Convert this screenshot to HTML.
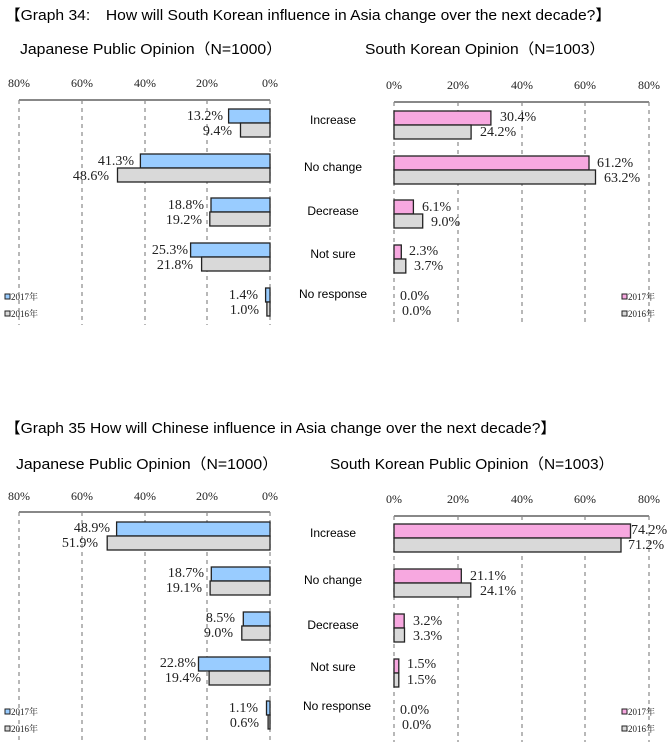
<!DOCTYPE html>
<html><head><meta charset="utf-8"><style>
body{margin:0;background:#fff}
svg{display:block}
.t{font-family:"Liberation Sans","Noto Sans CJK JP",sans-serif;fill:#000}
.s{font-family:"Liberation Serif","Noto Serif CJK SC",serif;fill:#222}
.tick{font-size:12px}
.v{font-size:14px}
.c{font-size:12px;text-anchor:middle}
.g{stroke:#888;stroke-width:1.2;stroke-dasharray:4,4}
.ax{stroke:#888;stroke-width:2}
.b{fill:#99ccff;stroke:#222;stroke-width:1.3}
.p{fill:#f7a8e0;stroke:#222;stroke-width:1.3}
.y{fill:#d9d9d9;stroke:#222;stroke-width:1.3}
.lg{font-size:9px}
</style></head><body>
<svg width="670" height="747" viewBox="0 0 670 747" xmlns="http://www.w3.org/2000/svg">
<text class="t" x="5" y="20" font-size="15" textLength="606" lengthAdjust="spacingAndGlyphs">【Graph 34:　How will South Korean influence in Asia change over the next decade?】</text>
<text class="t" x="20" y="54" font-size="15" textLength="262" lengthAdjust="spacingAndGlyphs">Japanese Public Opinion（N=1000）</text>
<text class="t" x="365" y="54" font-size="15" textLength="240" lengthAdjust="spacingAndGlyphs">South Korean Opinion（N=1003）</text>

<g class="s tick" text-anchor="middle">
<text x="19" y="87">80%</text><text x="82" y="87">60%</text><text x="145" y="87">40%</text><text x="207" y="87">20%</text><text x="270" y="87">0%</text>
<text x="394" y="89">0%</text><text x="458" y="89">20%</text><text x="522" y="89">40%</text><text x="585" y="89">60%</text><text x="649" y="89">80%</text>
</g>
<g>
<line class="g" x1="19" y1="100" x2="19" y2="325"/><line class="g" x1="82" y1="100" x2="82" y2="325"/><line class="g" x1="145" y1="100" x2="145" y2="325"/><line class="g" x1="207" y1="100" x2="207" y2="325"/><line class="g" x1="270" y1="100" x2="270" y2="325"/>
<line class="ax" x1="19" y1="100" x2="270" y2="100"/>
<line class="g" x1="394" y1="102" x2="394" y2="325"/><line class="g" x1="458" y1="102" x2="458" y2="325"/><line class="g" x1="522" y1="102" x2="522" y2="325"/><line class="g" x1="585" y1="102" x2="585" y2="325"/><line class="g" x1="649" y1="102" x2="649" y2="325"/>
<line class="ax" x1="394" y1="102" x2="649" y2="102"/>
</g>
<rect class="b" x="228.6" y="109" width="41.4" height="14"/><rect class="y" x="240.5" y="123" width="29.5" height="14"/>
<rect class="b" x="140.4" y="154" width="129.6" height="14"/><rect class="y" x="117.5" y="168" width="152.5" height="14"/>
<rect class="b" x="211" y="198" width="59" height="14"/><rect class="y" x="209.8" y="212" width="60.2" height="14"/>
<rect class="b" x="190.6" y="243" width="79.4" height="14"/><rect class="y" x="201.6" y="257" width="68.4" height="14"/>
<rect class="b" x="265.6" y="288" width="4.4" height="14"/><rect class="y" x="266.9" y="302" width="3.1" height="14"/>
<g class="s v" text-anchor="end">
<text x="223" y="120">13.2%</text><text x="232" y="135">9.4%</text>
<text x="134" y="165">41.3%</text><text x="109" y="180">48.6%</text>
<text x="204" y="209">18.8%</text><text x="202" y="224">19.2%</text>
<text x="188" y="254">25.3%</text><text x="193" y="269">21.8%</text>
<text x="258" y="299">1.4%</text><text x="259" y="314">1.0%</text>
</g>
<rect class="p" x="394" y="111" width="96.9" height="14"/><rect class="y" x="394" y="125" width="77.1" height="14"/>
<rect class="p" x="394" y="156" width="195" height="14"/><rect class="y" x="394" y="170" width="201.5" height="14"/>
<rect class="p" x="394" y="200" width="19.4" height="14"/><rect class="y" x="394" y="214" width="28.7" height="14"/>
<rect class="p" x="394" y="245" width="7.3" height="14"/><rect class="y" x="394" y="259" width="11.8" height="14"/>
<g class="s v">
<text x="500" y="121">30.4%</text><text x="480" y="136">24.2%</text>
<text x="597" y="167">61.2%</text><text x="604" y="182">63.2%</text>
<text x="422" y="211">6.1%</text><text x="431" y="226">9.0%</text>
<text x="409" y="255">2.3%</text><text x="414" y="270">3.7%</text>
<text x="400" y="300">0.0%</text><text x="402" y="315">0.0%</text>
</g>
<g class="t c">
<text x="333" y="124">Increase</text><text x="333" y="171">No change</text><text x="333" y="215">Decrease</text><text x="333" y="258">Not sure</text><text x="333" y="298">No response</text>
</g>
<g class="s lg">
<rect x="5" y="294" width="5" height="5" fill="#99ccff" stroke="#222" stroke-width="1"/><text x="11" y="300">2017年</text>
<rect x="5" y="311" width="5" height="5" fill="#d9d9d9" stroke="#222" stroke-width="1"/><text x="11" y="317">2016年</text>
<rect x="622" y="294" width="5" height="5" fill="#f7a8e0" stroke="#222" stroke-width="1"/><text x="628" y="300">2017年</text>
<rect x="622" y="311" width="5" height="5" fill="#d9d9d9" stroke="#222" stroke-width="1"/><text x="628" y="317">2016年</text>
</g>

<text class="t" x="5" y="433" font-size="15" textLength="551" lengthAdjust="spacingAndGlyphs">【Graph 35 How will Chinese influence in Asia change over the next decade?】</text>
<text class="t" x="16" y="469" font-size="15" textLength="262" lengthAdjust="spacingAndGlyphs">Japanese Public Opinion（N=1000）</text>
<text class="t" x="330" y="469" font-size="15" textLength="284" lengthAdjust="spacingAndGlyphs">South Korean Public Opinion（N=1003）</text>
<g class="s tick" text-anchor="middle">
<text x="19" y="500">80%</text><text x="82" y="500">60%</text><text x="145" y="500">40%</text><text x="207" y="500">20%</text><text x="270" y="500">0%</text>
<text x="394" y="503">0%</text><text x="458" y="503">20%</text><text x="522" y="503">40%</text><text x="585" y="503">60%</text><text x="649" y="503">80%</text>
</g>
<g>
<line class="g" x1="19" y1="512" x2="19" y2="742"/><line class="g" x1="82" y1="512" x2="82" y2="742"/><line class="g" x1="145" y1="512" x2="145" y2="742"/><line class="g" x1="207" y1="512" x2="207" y2="742"/><line class="g" x1="270" y1="512" x2="270" y2="742"/>
<line class="ax" x1="19" y1="512" x2="270" y2="512"/>
<line class="g" x1="394" y1="516" x2="394" y2="742"/><line class="g" x1="458" y1="516" x2="458" y2="742"/><line class="g" x1="522" y1="516" x2="522" y2="742"/><line class="g" x1="585" y1="516" x2="585" y2="742"/><line class="g" x1="649" y1="516" x2="649" y2="742"/>
<line class="ax" x1="394" y1="516" x2="649" y2="516"/>
</g>
<rect class="b" x="116.6" y="522" width="153.4" height="14"/><rect class="y" x="107.2" y="536" width="162.8" height="14"/>
<rect class="b" x="211.3" y="567" width="58.7" height="14"/><rect class="y" x="210.1" y="581" width="59.9" height="14"/>
<rect class="b" x="243.3" y="612" width="26.7" height="14"/><rect class="y" x="241.8" y="626" width="28.2" height="14"/>
<rect class="b" x="198.5" y="657" width="71.5" height="14"/><rect class="y" x="209.1" y="671" width="60.9" height="14"/>
<rect class="b" x="266.5" y="701" width="3.5" height="14"/><rect class="y" x="268.1" y="715" width="1.9" height="14"/>
<g class="s v" text-anchor="end">
<text x="110" y="532">48.9%</text><text x="98" y="547">51.9%</text>
<text x="204" y="577">18.7%</text><text x="202" y="592">19.1%</text>
<text x="235" y="622">8.5%</text><text x="233" y="637">9.0%</text>
<text x="196" y="667">22.8%</text><text x="201" y="682">19.4%</text>
<text x="258" y="712">1.1%</text><text x="259" y="727">0.6%</text>
</g>
<rect class="p" x="394" y="524" width="236.5" height="14"/><rect class="y" x="394" y="538" width="227" height="14"/>
<rect class="p" x="394" y="569" width="67.3" height="14"/><rect class="y" x="394" y="583" width="76.8" height="14"/>
<rect class="p" x="394" y="614" width="10.2" height="14"/><rect class="y" x="394" y="628" width="10.5" height="14"/>
<rect class="p" x="394" y="659" width="4.8" height="14"/><rect class="y" x="394" y="673" width="4.8" height="14"/>
<g class="s v">
<text x="631" y="534">74.2%</text><text x="628" y="549">71.2%</text>
<text x="470" y="580">21.1%</text><text x="480" y="595">24.1%</text>
<text x="413" y="625">3.2%</text><text x="413" y="640">3.3%</text>
<text x="407" y="668">1.5%</text><text x="407" y="684">1.5%</text>
<text x="400" y="714">0.0%</text><text x="402" y="729">0.0%</text>
</g>
<g class="t c">
<text x="333" y="537">Increase</text><text x="333" y="584">No change</text><text x="333" y="629">Decrease</text><text x="333" y="671">Not sure</text><text x="337" y="710">No response</text>
</g>
<g class="s lg">
<rect x="5" y="709" width="5" height="5" fill="#99ccff" stroke="#222" stroke-width="1"/><text x="11" y="715">2017年</text>
<rect x="5" y="726" width="5" height="5" fill="#d9d9d9" stroke="#222" stroke-width="1"/><text x="11" y="732">2016年</text>
<rect x="622" y="709" width="5" height="5" fill="#f7a8e0" stroke="#222" stroke-width="1"/><text x="628" y="715">2017年</text>
<rect x="622" y="726" width="5" height="5" fill="#d9d9d9" stroke="#222" stroke-width="1"/><text x="628" y="732">2016年</text>
</g>
</svg>
</body></html>
